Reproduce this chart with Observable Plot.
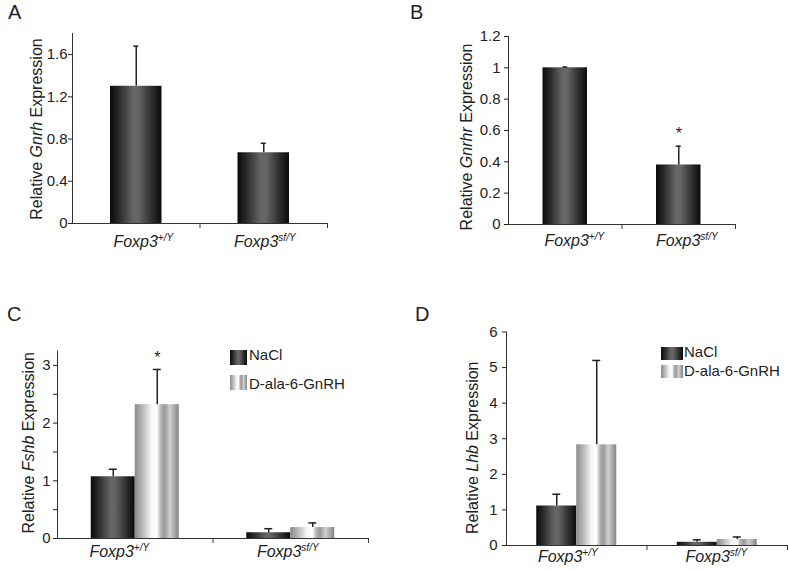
<!DOCTYPE html>
<html><head><meta charset="utf-8">
<script src="https://cdn.jsdelivr.net/npm/d3@7"></script>
<script src="https://cdn.jsdelivr.net/npm/@observablehq/plot@0.6"></script>
<style>
html,body{margin:0;padding:0;background:#fff;}
#fig{position:relative;width:789px;height:571px;overflow:hidden;font-family:"Liberation Sans",Arial,sans-serif;color:#222;}
.panel{position:absolute;}
.letter{position:absolute;font-size:20px;line-height:20px;}
.leg{position:absolute;font-size:15px;line-height:15px;white-space:nowrap;}
.sw{position:absolute;}
</style></head><body><div id="fig"></div>
<script>
// ---- data ----
const genotypes = ["Foxp3+/Y", "Foxp3sf/Y"];
const genotypeBase = ["Foxp3", "Foxp3"];
const genotypeSup = ["+/Y", "sf/Y"];
const treatments = ["NaCl", "D-ala-6-GnRH"];
const panelLetters = ["A", "B", "C", "D"];
const genes = ["Gnrh", "Gnrhr", "Fshb", "Lhb"];

const gnrhMean = [1.30, 0.67];
const gnrhErr = [0.38, 0.09];

const gnrhrMean = [1.00, 0.38];
const gnrhrErr = [0.005, 0.12];
const gnrhrSig = [false, true];

const fshbNaClMean = [1.07, 0.10];
const fshbNaClErr = [0.13, 0.07];
const fshbGnrhMean = [2.32, 0.19];
const fshbGnrhErr = [0.61, 0.08];
const fshbGnrhSig = [true, false];

const lhbNaClMean = [1.11, 0.09];
const lhbNaClErr = [0.33, 0.07];
const lhbGnrhMean = [2.83, 0.17];
const lhbGnrhErr = [2.37, 0.07];

const gnrhTicks = [0, 0.4, 0.8, 1.2, 1.6];
const gnrhrTicks = [0, 0.2, 0.4, 0.6, 0.8, 1, 1.2];
const fshbTicks = [0, 1, 2, 3];
const fshbMinorTicks = [0.5, 1.5, 2.5];
const lhbTicks = [0, 1, 2, 3, 4, 5, 6];

// ---- styles ----
const darkStops = [[0,"#0b0b0b"],[0.15,"#252525"],[0.45,"#666"],[0.55,"#666"],[0.85,"#262626"],[1,"#0b0b0b"]];
const lightStops = [[0,"#8a8a8a"],[0.2,"#c0c0c0"],[0.38,"#f6f6f6"],[0.5,"#ffffff"],[0.6,"#b0b0b0"],[0.68,"#9a9a9a"],[0.8,"#d0d0d0"],[1,"#848484"]];
const cssGrad = stops => "linear-gradient(to right," + stops.map(([o,c]) => `${c} ${o*100}%`).join(",") + ")";

function makeDefs(id) {
  const d = d3.create("svg:defs");
  for (const [name, stops] of [["dark", darkStops], ["light", lightStops]]) {
    const g = d.append("linearGradient").attr("id", `${id}-${name}`)
      .attr("x1", 0).attr("x2", 1).attr("y1", 0).attr("y2", 0);
    stops.forEach(([o, c]) => g.append("stop").attr("offset", o).attr("stop-color", c));
  }
  return d.node();
}

const fig = document.getElementById("fig");

function panel(cfg) {
  const {id, left, top, width, height, ml, mr, mt, mb} = cfg;
  const bw = (width - ml - mr) / genotypes.length;
  const n = cfg.series.length;
  const outer = (bw - n * cfg.barW) / 2;
  const titleStr = "Relative " + cfg.gene + " Expression";
  const marks = [() => makeDefs(id)];
  cfg.series.forEach((s, k) => {
    const rows = genotypes.map((g, i) => ({g, mean: s.mean[i], hi: s.mean[i] + s.err[i], sig: s.sig ? s.sig[i] : false}));
    const il = outer + k * cfg.barW;
    const ir = bw - il - cfg.barW;
    const off = il + cfg.barW / 2 - bw / 2;
    marks.push(Plot.barY(rows, {x: "g", y: "mean", fill: `url(#${id}-${s.grad})`, insetLeft: il, insetRight: ir}));
    marks.push(Plot.ruleX(rows, {x: "g", y1: "mean", y2: "hi", dx: off, stroke: "#222", strokeWidth: 1.5}));
    marks.push(Plot.tickY(rows, {x: "g", y: "hi", dx: off, insetLeft: bw / 2 - cfg.capW / 2, insetRight: bw / 2 - cfg.capW / 2, stroke: "#222", strokeWidth: 1.5}));
    marks.push(Plot.text(rows.filter(r => r.sig), {x: "g", y: "hi", dx: off, dy: -12, text: () => "*", fontSize: 16, fill: "#222"}));
  });
  marks.push(Plot.ruleY([0], {stroke: "#333"}));
  marks.push(Plot.frame({anchor: "left", stroke: "#333"}));
  marks.push(Plot.axisY(cfg.yTicks, {tickSize: 4, tickPadding: cfg.tickPad, tickFormat: d => String(d), fontSize: 15, color: "#222", label: null}));
  if (cfg.yMinor) marks.push(Plot.axisY(cfg.yMinor, {tickSize: 4, tickFormat: () => "", color: "#222", label: null}));
  marks.push(Plot.axisX({tickSize: 5, tickFormat: () => "", dx: bw / 2, color: "#333", label: null}));
  genotypes.forEach((g, i) => {
    marks.push(Plot.text([g], {x: d => d, frameAnchor: "bottom", lineAnchor: "bottom", dy: cfg.labelDy, dx: cfg.labelDx[i], fontSize: 16, fontStyle: "italic", fill: "#222"}));
  });
  marks.push(Plot.text([titleStr], {frameAnchor: "left", textAnchor: "middle", lineAnchor: "middle", text: d => d, rotate: -90, dx: cfg.titleDx, dy: cfg.titleDy, fontSize: 16, fill: "#222"}));

  const svg = Plot.plot({
    width, height, marginLeft: ml, marginRight: mr, marginTop: mt, marginBottom: mb,
    x: {type: "band", domain: genotypes, padding: 0, round: false},
    y: {domain: cfg.yDomain},
    style: {fontFamily: '"Liberation Sans", Arial, sans-serif', fontSize: "15px", color: "#222", background: "transparent", overflow: "visible"},
    marks
  });
  // superscripts and italic gene names as real text
  d3.select(svg).selectAll("text").each(function () {
    const t = this.textContent;
    const gi = genotypes.indexOf(t);
    const sel = d3.select(this);
    if (gi >= 0) {
      sel.text(null);
      sel.append("tspan").text(genotypeBase[gi]);
      sel.append("tspan").attr("font-size", "10px").attr("dy", "-6").text(genotypeSup[gi]);
    } else if (t === titleStr) {
      sel.text(null);
      sel.append("tspan").text("Relative ");
      sel.append("tspan").attr("font-style", "italic").text(cfg.gene);
      sel.append("tspan").text(" Expression");
    }
  });
  const wrap = document.createElement("div");
  wrap.className = "panel";
  wrap.style.left = left + "px"; wrap.style.top = top + "px";
  wrap.appendChild(svg);
  fig.appendChild(wrap);
}

const cfgs = [
  {id: "A", left: 0, top: 0, width: 390, height: 285, ml: 72, mr: 63, mt: 33, mb: 62, yDomain: [0, 1.8], yTicks: gnrhTicks, tickPad: 1,
   gene: genes[0], titleDx: -35.5, titleDy: 0.5, barW: 51.5, capW: 5, labelDx: [7, 1], labelDy: 23.7,
   series: [{mean: gnrhMean, err: gnrhErr, sig: null, grad: "dark"}]},
  {id: "B", left: 400, top: 0, width: 389, height: 285, ml: 108, mr: 54, mt: 36, mb: 61, yDomain: [0, 1.2], yTicks: gnrhrTicks, tickPad: 4,
   gene: genes[1], titleDx: -42, titleDy: 6.5, barW: 44.5, capW: 5, labelDx: [9, 8], labelDy: 21,
   series: [{mean: gnrhrMean, err: gnrhrErr, sig: gnrhrSig, grad: "dark"}]},
  {id: "C", left: 0, top: 290, width: 390, height: 281, ml: 57, mr: 22, mt: 60.5, mb: 33, yDomain: [0, 3.25], yTicks: fshbTicks, yMinor: fshbMinorTicks, tickPad: 3,
   gene: genes[2], titleDx: -28.5, titleDy: -2, barW: 44, capW: 8, labelDx: [-16, -3], labelDy: 18.7,
   series: [{mean: fshbNaClMean, err: fshbNaClErr, sig: null, grad: "dark"}, {mean: fshbGnrhMean, err: fshbGnrhErr, sig: fshbGnrhSig, grad: "light"}]},
  {id: "D", left: 400, top: 290, width: 389, height: 281, ml: 106, mr: 2, mt: 41.5, mb: 26, yDomain: [0, 6], yTicks: lhbTicks, tickPad: 5,
   gene: genes[3], titleDx: -34, titleDy: 9, barW: 40, capW: 8, labelDx: [-9, -1], labelDy: 16.7,
   series: [{mean: lhbNaClMean, err: lhbNaClErr, sig: null, grad: "dark"}, {mean: lhbGnrhMean, err: lhbGnrhErr, sig: null, grad: "light"}]}
];
cfgs.forEach(panel);

// panel letters
const letterPos = [[8, 2], [410, 2], [7, 303.5], [415, 303.5]];
panelLetters.forEach((L, i) => {
  const d = document.createElement("div");
  d.className = "letter"; d.textContent = L;
  d.style.left = letterPos[i][0] + "px"; d.style.top = letterPos[i][1] + "px";
  fig.appendChild(d);
});

// legends (C and D)
const legendLayouts = [
  {sx: 230, sw: 17, sh: 15, sy: [350, 375], tx: 249, ty: [347.3, 375.6]},
  {sx: 661, sw: 22, sh: 13, sy: [347, 365], tx: 684, ty: [344, 363]}
];
const legendGrads = [darkStops, lightStops];
legendLayouts.forEach(L => {
  treatments.forEach((t, k) => {
    const sw = document.createElement("div");
    sw.className = "sw";
    Object.assign(sw.style, {left: L.sx + "px", top: L.sy[k] + "px", width: L.sw + "px", height: L.sh + "px", background: cssGrad(legendGrads[k])});
    fig.appendChild(sw);
    const tx = document.createElement("div");
    tx.className = "leg"; tx.textContent = t;
    Object.assign(tx.style, {left: L.tx + "px", top: L.ty[k] + "px"});
    fig.appendChild(tx);
  });
});
</script></body></html>
